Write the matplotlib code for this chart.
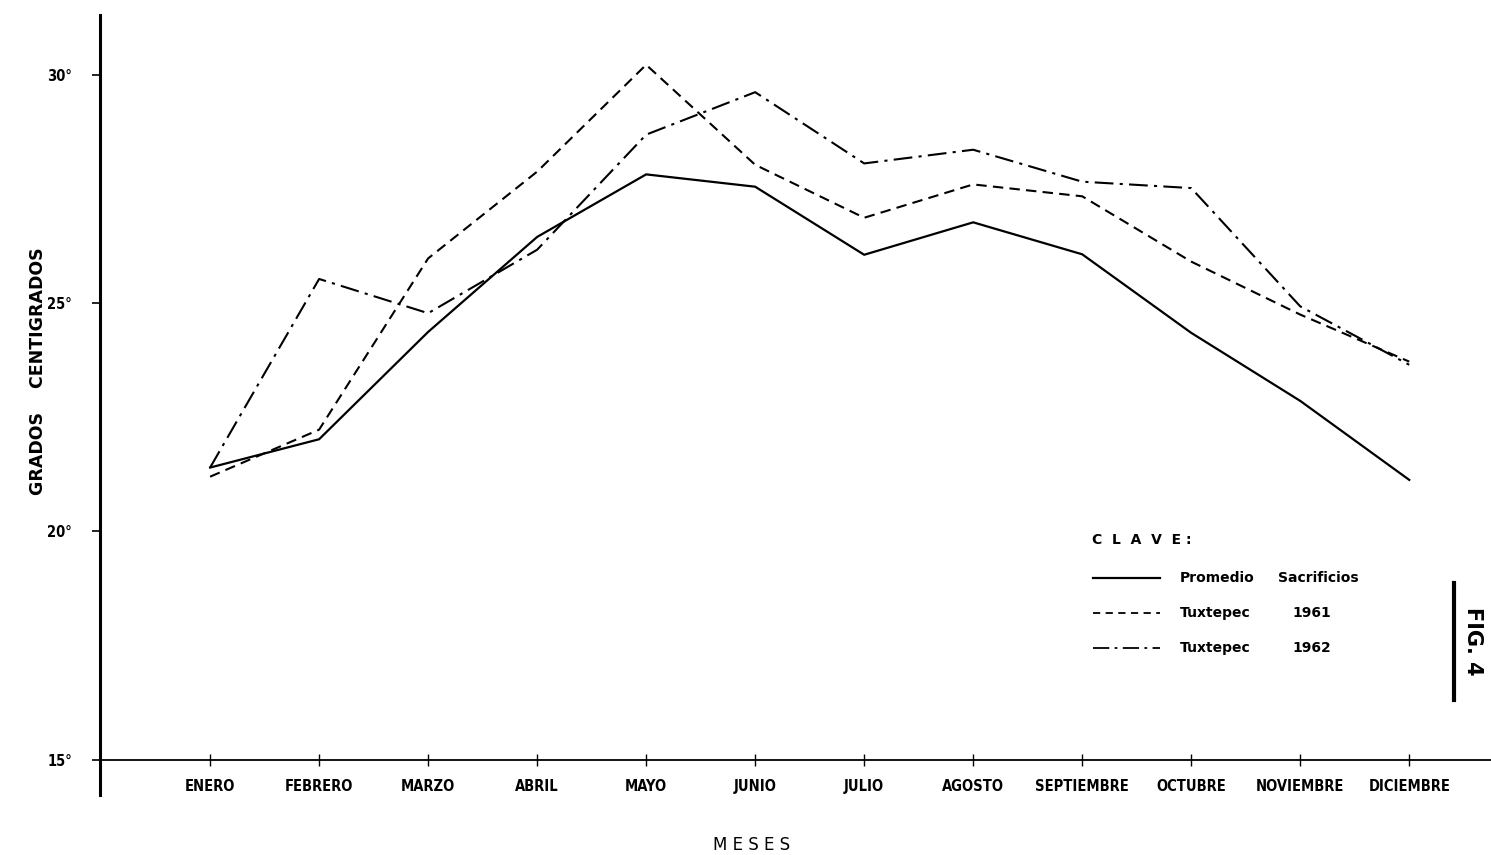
import matplotlib.pyplot as plt
from matplotlib.lines import Line2D

meses = ['ENERO', 'FEBRERO', 'MARZO', 'ABRIL', 'MAYO', 'JUNIO', 'JULIO',
         'AGOSTO', 'SEPTIEMBRE', 'OCTUBRE', 'NOVIEMBRE', 'DICIEMBRE']
promedio = [21.4, 22.02, 24.37, 26.45, 27.82, 27.55, 26.06, 26.77, 26.07, 24.35, 22.86, 21.13]
tux1961 = [21.2, 22.23, 25.98, 27.88, 30.22, 28.03, 26.87, 27.6, 27.34, 25.91, 24.75, 23.72]
tux1962 = [21.4, 25.53, 24.78, 26.17, 28.69, 29.62, 28.06, 28.36, 27.66, 27.52, 24.93, 23.65]
yticks = [15, 20, 25, 30]
ylabels = ['15°', '20°', '25°', '30°']

plt.rcParams['font.family'] = ['DejaVu Sans']

fig = plt.figure(figsize=(14.91, 8.55), dpi=100)
ax = fig.add_axes([100 / 1491, 1 - 795 / 855, 1 - 100 / 1491, 780 / 855])

x = list(range(len(meses)))
ax.plot(x, promedio, color='black', lw=1.6, solid_joinstyle='miter')
ax.plot(x, tux1961, color='black', lw=1.5, dashes=(5, 3))
ax.plot(x, tux1962, color='black', lw=1.5, dashes=(9, 3, 1.5, 3))

ax.set_xlim(-1.01, 11.75)
ax.set_ylim(14.23, 31.31)

for s in ['top', 'right']:
    ax.spines[s].set_visible(False)
ax.spines['bottom'].set_position(('data', 15))
ax.spines['bottom'].set_linewidth(1.3)
ax.spines['left'].set_linewidth(2.2)

ax.set_xticks(x)
ax.set_xticklabels(meses, fontweight='bold', fontsize=10.5, fontstretch='condensed')
ax.tick_params(axis='x', direction='inout', length=8, width=1, pad=10)
ax.set_yticks(yticks)
ax.set_yticklabels(ylabels, fontweight='bold', fontsize=10.5, fontstretch='condensed')
ax.tick_params(axis='y', direction='out', length=6, width=1.2, pad=14)

fig.text(38 / 1491, 1 - 371 / 855, 'GRADOS    CENTIGRADOS', rotation=90,
         ha='center', va='center', fontsize=12.5, fontweight='bold')
fig.text(752 / 1491, 1 - 845 / 855, 'M E S E S', ha='center', va='center', fontsize=12)

# clave
fig.text(1092 / 1491, 1 - 540 / 855, 'C  L  A  V  E :', ha='left', va='center',
         fontsize=10, fontweight='bold')
leg_y = [578, 613, 648]
styles = [dict(lw=1.6), dict(lw=1.3, dashes=(4, 3)), dict(lw=1.3, dashes=(9, 3, 1.5, 3))]
names = ['Promedio', 'Tuxtepec', 'Tuxtepec']
extra = ['Sacrificios', '1961', '1962']
extra_x = [1278, 1292, 1292]
for yy, st, n, e, ex in zip(leg_y, styles, names, extra, extra_x):
    fy = 1 - yy / 855
    fig.add_artist(Line2D([1093 / 1491, 1160 / 1491], [fy, fy], color='black', **st))
    fig.text(1180 / 1491, fy, n, ha='left', va='center', fontsize=10, fontweight='bold')
    fig.text(ex / 1491, fy, e, ha='left', va='center', fontsize=10, fontweight='bold')

fig.add_artist(Line2D([1454 / 1491, 1454 / 1491], [1 - 583 / 855, 1 - 700 / 855],
                      color='black', lw=3))
fig.text(1473 / 1491, 1 - 641 / 855, 'FIG. 4', rotation=-90, ha='center', va='center',
         fontsize=15, fontweight='bold')

fig.savefig('out.png', dpi=100)
